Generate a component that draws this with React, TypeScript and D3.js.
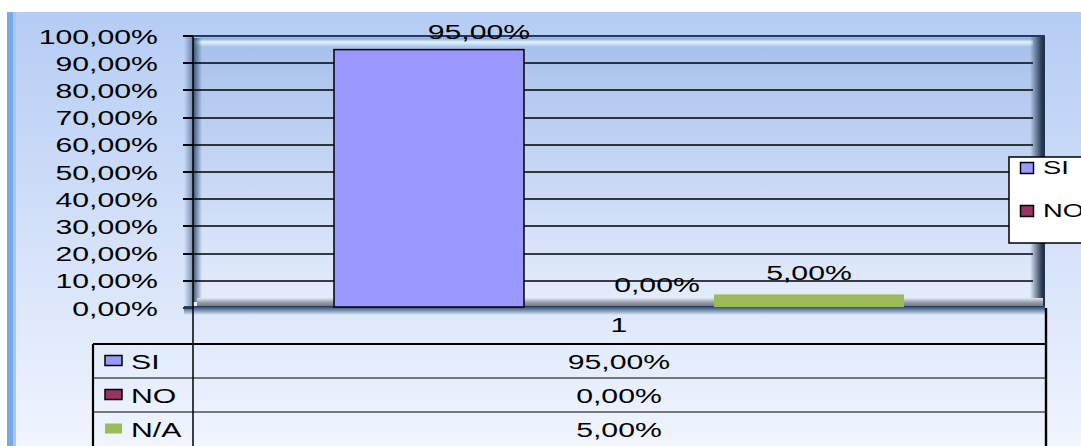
import React from 'react';
import * as d3 from 'd3';

// chart data
const categories = ['1'];
const seriesNames = ['SI', 'NO', 'N/A'];
const seriesValues = [0.95, 0.0, 0.05];
const seriesColors = ['#9999ff', '#993366', '#9bbb59'];
const seriesOutlined = [true, true, false];
const yTickValues = [0, 0.1, 0.2, 0.3, 0.4, 0.5, 0.6, 0.7, 0.8, 0.9, 1.0];
const legendNames = ['SI', 'NO'];

const W = 1081;
const H = 446;
const plot = { left: 193, right: 1045, top: 36, bottom: 308 };
const FONT = '"Liberation Sans", Arial, sans-serif';
const SX = 1.44; // the reference text is stretched horizontally

// data label nudges (Excel 3D labels are not centred)
const labelDx = [50, 38, 0];
const labelDy = [11, 16, 14];

const esLocale = d3.formatLocale({ decimal: ',', thousands: '.', grouping: [3], currency: ['', '€'] });
const pct = esLocale.format('.2%');

const Txt = ({ x, y, anchor = 'start', size = 21, children }) => (
    <text
        transform={`translate(${x},${y}) scale(${SX},1)`}
        textAnchor={anchor}
        fontFamily={FONT}
        fontSize={size}
        fill="#000"
    >
        {children}
    </text>
);

export default function App() {
    const y = d3.scaleLinear().domain([0, 1]).range([plot.bottom, plot.top]);
    const x0 = d3.scaleBand().domain(categories).range([plot.left, plot.right]).padding(0);
    const x1 = d3.scaleBand().domain(seriesNames).range([0, x0.bandwidth()]).paddingInner(0).paddingOuter(0.742);

    const tableTop = 344;
    const rowH = 34;

    return (
        <div style={{ position: 'fixed', left: 0, top: 0 }}>
            <svg width={W} height={H} style={{ display: 'block' }}>
                <defs>
                    <linearGradient id="bg" x1="0" y1="0" x2="0" y2="1">
                        <stop offset="0" stopColor="#b5ccf4" />
                        <stop offset="1" stopColor="#f0f5fe" />
                    </linearGradient>
                    <linearGradient id="wall" x1="0" y1="0" x2="0" y2="1">
                        <stop offset="0" stopColor="#a6c0ec" />
                        <stop offset="1" stopColor="#e6eefc" />
                    </linearGradient>
                    <linearGradient id="leftShade" x1="0" y1="0" x2="1" y2="0">
                        <stop offset="0" stopColor="#2a4468" stopOpacity="0.9" />
                        <stop offset="1" stopColor="#2a4468" stopOpacity="0" />
                    </linearGradient>
                    <linearGradient id="rightShade" x1="0" y1="0" x2="1" y2="0">
                        <stop offset="0" stopColor="#1f2f48" stopOpacity="0" />
                        <stop offset="0.8" stopColor="#1f2f48" stopOpacity="0.95" />
                        <stop offset="1" stopColor="#1f2f48" stopOpacity="1" />
                    </linearGradient>
                    <linearGradient id="topEdge" x1="0" y1="0" x2="0" y2="1">
                        <stop offset="0" stopColor="#7d9fd2" />
                        <stop offset="0.45" stopColor="#e2f6ff" />
                        <stop offset="1" stopColor="#a6c0ec" />
                    </linearGradient>
                    <linearGradient id="floor" x1="0" y1="0" x2="0" y2="1">
                        <stop offset="0" stopColor="#dfe7f5" />
                        <stop offset="0.5" stopColor="#969ca6" />
                        <stop offset="1" stopColor="#6c737e" />
                    </linearGradient>
                    <linearGradient id="floorShadow" x1="0" y1="0" x2="0" y2="1">
                        <stop offset="0" stopColor="#1c3a68" />
                        <stop offset="1" stopColor="#1c3a68" stopOpacity="0" />
                    </linearGradient>
                </defs>

                {/* chart area background */}
                <rect x={7} y={12} width={W - 7} height={H - 12} fill="url(#bg)" />
                <rect x={7} y={12} width={6} height={H - 12} fill="#78a8e6" />
                <rect x={13} y={12} width={3} height={H - 12} fill="#a9c6f0" />

                {/* 3D back wall */}
                <rect x={plot.left} y={plot.top} width={plot.right - plot.left} height={plot.bottom - plot.top} fill="url(#wall)" />
                <rect x={plot.left} y={plot.top + 2} width={plot.right - plot.left - 12} height={9} fill="url(#topEdge)" />
                <rect x={plot.left} y={plot.top + 2} width={9} height={plot.bottom - plot.top - 8} fill="url(#leftShade)" />
                <rect x={184} y={plot.top + 6} width={9} height={plot.bottom - plot.top - 2} fill="url(#leftShade)" transform={`rotate(180 188.5 ${(plot.top + plot.bottom) / 2 + 2})`} opacity={0.6} />

                {/* gridlines and ticks */}
                {yTickValues.map((t) => (
                    <g key={t}>
                        <line x1={183} x2={plot.right - 12} y1={Math.round(y(t))} y2={Math.round(y(t))} stroke="#000" strokeWidth={t === 0 ? 0 : 1.6} />
                        <line x1={183} x2={plot.left} y1={Math.round(y(t))} y2={Math.round(y(t))} stroke="#000" strokeWidth={1.6} />
                        <Txt x={158} y={y(t) + 7.5} anchor="end">{pct(t)}</Txt>
                    </g>
                ))}

                <rect x={plot.right - 15} y={plot.top} width={15} height={plot.bottom - plot.top - 2} fill="url(#rightShade)" />
                <line x1={plot.left} x2={plot.right} y1={plot.top} y2={plot.top} stroke="#1d3a62" strokeWidth={2} />

                {/* floor */}
                <rect x={plot.left + 4} y={plot.bottom - 10} width={plot.right - plot.left - 6} height={9} fill="url(#floor)" />
                <rect x={184} y={plot.bottom - 2} width={plot.right - 184} height={9} fill="url(#floorShadow)" />

                {/* bars */}
                {categories.map((c) => (
                    <g key={c}>
                        {seriesNames.map((s, i) => {
                            const bx = x0(c) + x1(s);
                            const top = y(seriesValues[i]);
                            return (
                                <rect
                                    key={s}
                                    x={bx}
                                    y={top}
                                    width={x1.bandwidth()}
                                    height={Math.max(0, y(0) - top - 1)}
                                    fill={seriesColors[i]}
                                    stroke={seriesOutlined[i] && seriesValues[i] > 0 ? '#000' : 'none'}
                                    strokeWidth={1.5}
                                />
                            );
                        })}
                        {seriesNames.map((s, i) => (
                            <Txt
                                key={s}
                                x={x0(c) + x1(s) + x1.bandwidth() / 2 + labelDx[i]}
                                y={y(seriesValues[i]) - labelDy[i]}
                                anchor="middle"
                            >
                                {pct(seriesValues[i])}
                            </Txt>
                        ))}
                        <Txt x={x0(c) + x0.bandwidth() / 2} y={332} anchor="middle">{c}</Txt>
                    </g>
                ))}

                {/* axis */}
                <line x1={plot.left} x2={plot.left} y1={plot.top} y2={H} stroke="#000" strokeWidth={1.5} />

                {/* data table */}
                <line x1={93} x2={plot.right} y1={tableTop} y2={tableTop} stroke="#000" strokeWidth={2.2} />
                <line x1={93} x2={93} y1={tableTop} y2={H} stroke="#000" strokeWidth={2.2} />
                <line x1={plot.right + 1} x2={plot.right + 1} y1={plot.bottom} y2={H} stroke="#000" strokeWidth={2.4} />
                {seriesNames.map((s, i) => {
                    const ry = tableTop + i * rowH;
                    return (
                        <g key={s}>
                            {i > 0 && <line x1={93} x2={plot.right} y1={ry} y2={ry} stroke="#000" strokeWidth={1.2} />}
                            <rect
                                x={105}
                                y={ry + 11.5}
                                width={17}
                                height={10}
                                fill={seriesColors[i]}
                                stroke={seriesOutlined[i] ? '#000' : 'none'}
                                strokeWidth={1.5}
                            />
                            <Txt x={131} y={ry + 24.5}>{s}</Txt>
                            <Txt x={x0(categories[0]) + x0.bandwidth() / 2} y={ry + 25} anchor="middle">
                                {pct(seriesValues[i])}
                            </Txt>
                        </g>
                    );
                })}

                {/* legend (clipped at the right edge) */}
                <rect x={1009} y={157} width={100} height={86} fill="#fff" stroke="#000" strokeWidth={1.5} />
                {legendNames.map((s, i) => {
                    const idx = seriesNames.indexOf(s);
                    return (
                        <g key={s}>
                            <rect x={1020.5} y={162.5 + i * 43} width={13} height={11} fill={seriesColors[idx]} stroke="#000" strokeWidth={1.5} />
                            <Txt x={1043} y={174 + i * 43} size={19}>{s}</Txt>
                        </g>
                    );
                })}
            </svg>
        </div>
    );
}
